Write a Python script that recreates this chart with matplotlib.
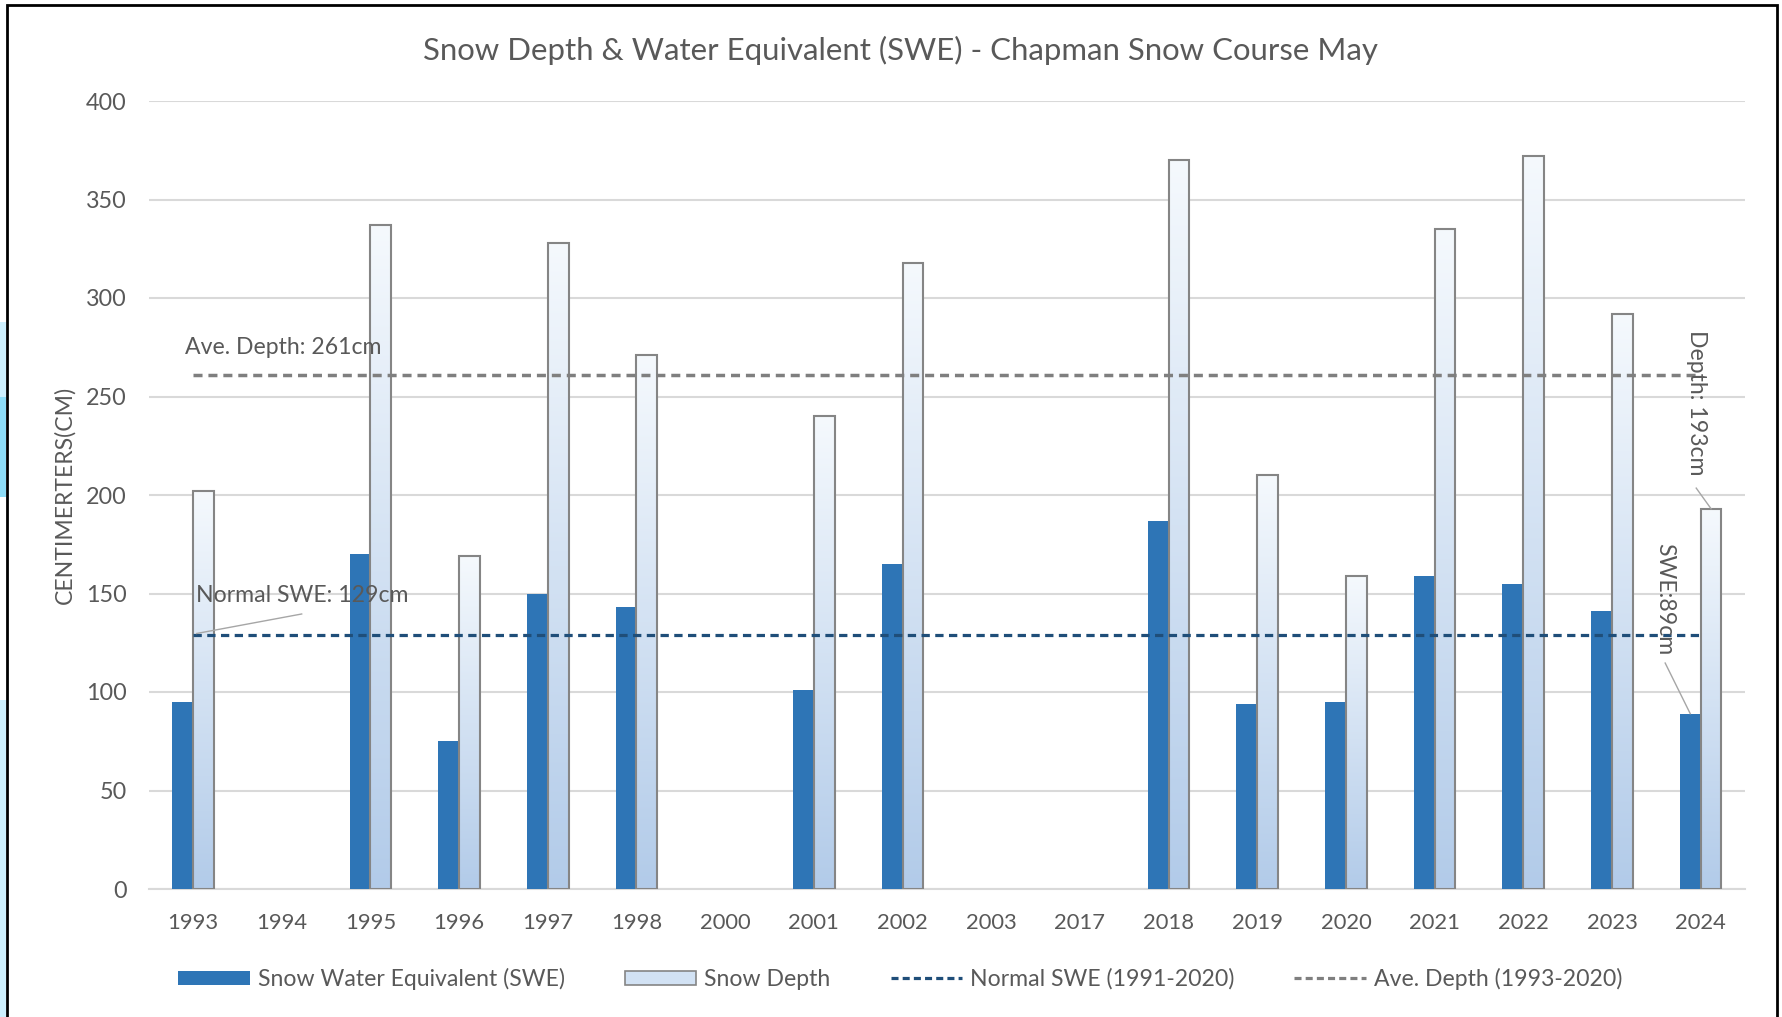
import numpy as np
import matplotlib
matplotlib.use("Agg")
import matplotlib.pyplot as plt
from matplotlib.patches import Rectangle, Patch
from matplotlib.lines import Line2D
from matplotlib.colors import LinearSegmentedColormap

nan = np.nan
years = ['1993', '1994', '1995', '1996', '1997', '1998', '2000', '2001', '2002',
         '2003', '2017', '2018', '2019', '2020', '2021', '2022', '2023', '2024']
swe = [95, nan, 170, 75, 150, 143, nan, 101, 165, nan, nan, 187, 94, 95, 159, 155, 141, 89]
depth = [202, nan, 337, 169, 328, 271, nan, 240, 318, nan, nan, 370, 210, 159, 335, 372, 292, 193]
normal_swe = 129
ave_depth = 261
yticks = [0, 50, 100, 150, 200, 250, 300, 350, 400]

title = "Snow Depth & Water Equivalent (SWE) - Chapman Snow Course May"
ylabel = "CENTIMERTERS(CM)"
leg_labels = ["Snow Water Equivalent (SWE)", "Snow Depth",
              "Normal SWE (1991-2020)", "Ave. Depth (1993-2020)"]

FONT = ['Lato', 'DejaVu Sans']
TXT = '#595959'
plt.rcParams['font.family'] = FONT

W, H = 1783, 1017
fig = plt.figure(figsize=(W / 100, H / 100), dpi=100)
ax = fig.add_axes([148.7 / W, 1 - 889 / H, (1745 - 148.7) / W, (889 - 101) / H])

x = np.arange(len(years))
bw = 0.235
swe_c = '#2e75b6'
edge_c = '#858585'

ax.bar(x - bw / 2, swe, width=bw, color=swe_c, zorder=3)
dbars = ax.bar(x + bw / 2, depth, width=bw, facecolor='none', edgecolor=edge_c,
               linewidth=1.5, zorder=4)

cmap = LinearSegmentedColormap.from_list('g', ['#b2cbe9', '#f5f9fd'])
grad = np.linspace(0, 1, 256).reshape(-1, 1)
for r in dbars.patches:
    h = r.get_height()
    if not np.isfinite(h) or h <= 0:
        continue
    x0 = r.get_x()
    ax.imshow(grad, extent=[x0, x0 + r.get_width(), 0, h], origin='lower',
              cmap=cmap, aspect='auto', zorder=2.5, interpolation='bilinear')

ax.plot([x[0], x[-1]], [normal_swe, normal_swe], color='#1f4e79', lw=2.3,
        dashes=(2.6, 1.7), zorder=5)
ax.plot([x[0], x[-1]], [ave_depth, ave_depth], color='#7f7f7f', lw=2.5,
        dashes=(2.6, 1.7), zorder=5)

ax.set_xlim(-0.5, len(years) - 0.5)
ax.set_ylim(0, 400)
ax.set_yticks(yticks)
ax.set_xticks(x)
ax.set_xticklabels(years)
ax.grid(axis='y', color='#d9d9d9', lw=1.5, zorder=0)
ax.set_axisbelow(True)
for s in ['top', 'right', 'left']:
    ax.spines[s].set_visible(False)
ax.spines['bottom'].set_color('#d9d9d9')
ax.spines['bottom'].set_linewidth(1.5)
ax.tick_params(axis='both', length=0, labelcolor=TXT)
ax.tick_params(axis='y', pad=16, labelsize=16.8)
ax.tick_params(axis='x', pad=17, labelsize=15.8)
ax.set_ylabel(ylabel, fontsize=16.6, color=TXT)
ax.yaxis.set_label_coords((75 - 148.7) / (1745 - 148.7), 0.5)

# annotations
AF = 16.6
ax.text(-0.09, ave_depth + 14, "Ave. Depth: %dcm" % ave_depth, fontsize=AF,
        color=TXT, ha='left', va='center', zorder=6)
ax.text(0.03, normal_swe + 20, "Normal SWE: %dcm" % normal_swe, fontsize=AF,
        color=TXT, ha='left', va='center', zorder=6)
ax.plot([0.041, 1.225], [normal_swe + 0.7, normal_swe + 10.6], color='#a6a6a6', lw=1, zorder=6)

last = len(years) - 1
ax.text(16.95, depth[last] + 54, "Depth: %dcm" % depth[last], fontsize=AF, color=TXT,
        rotation=270, ha='center', va='center', zorder=6)
ax.plot([16.95, last + bw / 2], [depth[last] + 10.5, depth[last]], color='#a6a6a6', lw=1, zorder=6)
ax.text(16.6, swe[last] + 58, "SWE:%dcm" % swe[last], fontsize=AF, color=TXT,
        rotation=270, ha='center', va='center', zorder=6)
ax.plot([16.6, last - bw / 2], [swe[last] + 25.7, swe[last]], color='#a6a6a6', lw=1, zorder=6)

fig.text(0.505, 1 - 50 / H, title, fontsize=22.4, color=TXT, ha='center', va='center')

handles = [Patch(facecolor=swe_c, edgecolor='none'),
           Patch(facecolor='#d2e2f4', edgecolor=edge_c, linewidth=1.2),
           Line2D([], [], color='#1f4e79', lw=2.3, dashes=(2.2, 1.3)),
           Line2D([], [], color='#7f7f7f', lw=2.3, dashes=(2.2, 1.3))]
fig.legend(handles, leg_labels, loc='center', bbox_to_anchor=(0.505, 1 - 979 / H),
           ncol=4, frameon=False, fontsize=16.6, labelcolor=TXT, handlelength=3.1,
           handleheight=0.6, handletextpad=0.35, columnspacing=2.6)

# frame and left-edge background
fig.patches.append(Rectangle((7 / W, -0.01), (1777 - 7) / W, 1.01 - 5 / H,
                             transform=fig.transFigure, fill=False, edgecolor='black',
                             linewidth=2, zorder=10))
fig.patches.append(Rectangle((0, 0), 6 / W, 1 - 700 / H, transform=fig.transFigure,
                             facecolor='#cdeffd', edgecolor='none', zorder=9))
fig.patches.append(Rectangle((0, 1 - 397 / H), 6 / W, 75 / H, transform=fig.transFigure,
                             facecolor='#cdeffd', edgecolor='none', zorder=9))
fig.patches.append(Rectangle((0, 1 - 497 / H), 6 / W, 100 / H, transform=fig.transFigure,
                             facecolor='#8ddcf7', edgecolor='none', zorder=9))

fig.savefig('out.png', dpi=100)
